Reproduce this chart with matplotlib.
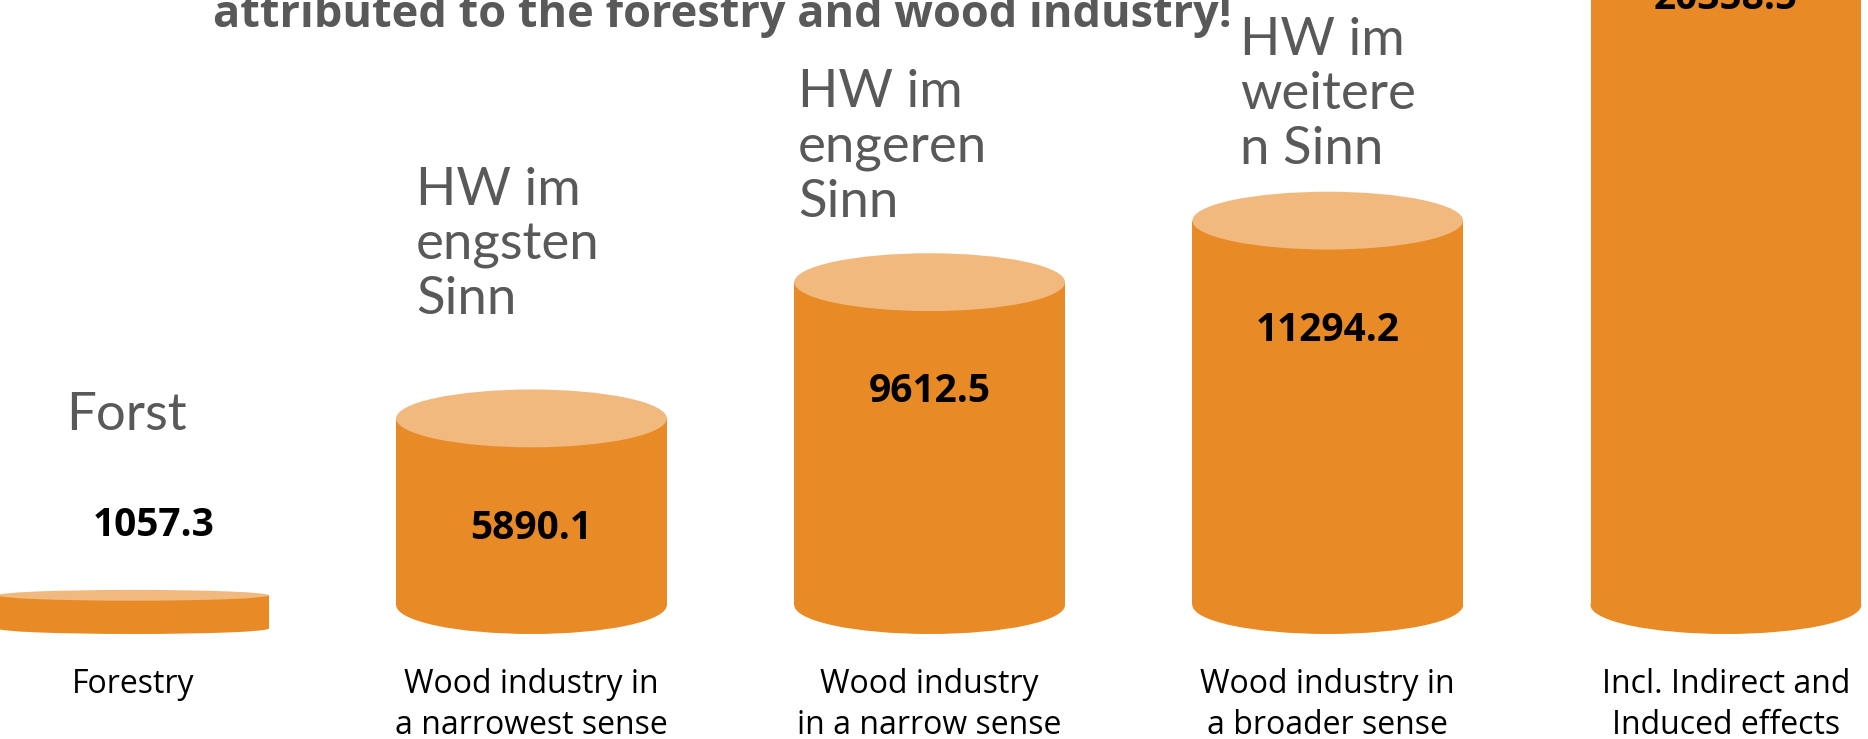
import matplotlib
matplotlib.use("Agg")
import matplotlib.pyplot as plt
from matplotlib.patches import Ellipse, Rectangle

# Данные диаграммы
categories = ["Forestry", "Wood industry in\na narrowest sense", "Wood industry\nin a narrow sense",
              "Wood industry in\na broader sense", "Incl. Indirect and\nInduced effects"]
values = [1057.3, 5890.1, 9612.5, 11294.2, 20358.5]
value_labels = ["1057.3", "5890.1", "9612.5", "11294.2", "20358.5"]
german_labels = ["Forst", "HW im\nengsten\nSinn", "HW im\nengeren\nSinn", "HW im\nweitere\nn Sinn"]
title = "attributed to the forestry and wood industry!"

# Оформление
BODY = "#E88B26"  # цвет цилиндра
TOP = "#F2B97E"   # цвет крышки
GREY = "#595959"
BAR_W = 0.68      # ширина цилиндра (в долях шага категорий)
RY = 790          # полувысота эллипса крышки (в единицах данных)
# немецкие подписи: (сдвиг по x от центра столбца, базовая линия последней строки)
de_pos = [(-0.17, 5574), (-0.29, 8730), (-0.33, 11393), (-0.22, 12842)]

fig = plt.figure(figsize=(18.68, 7.39), dpi=100)
ax = fig.add_axes([0, 0, 1, 1])
ax.set_xlim(-0.335, 4.357)
ax.set_ylim(-2869, 17322)
ax.axis("off")

for i, v in enumerate(values):
    ry = min(RY, 0.14 * v)  # низкий цилиндр - более плоский эллипс
    base = ry
    ax.add_patch(Ellipse((i, base), BAR_W, 2 * ry, color=BODY, lw=0, zorder=2))
    ax.add_patch(Rectangle((i - BAR_W / 2, base), BAR_W, v - base, color=BODY, lw=0, zorder=2))
    ax.add_patch(Ellipse((i, v), BAR_W, 2 * ry, color=TOP, lw=0, zorder=3))

    # подпись значения: внутри высокого цилиндра, над низким
    if v > 3000:
        ly = v - 3000
        lx = i
    else:
        ly = v + 1900
        lx = i + 0.05
    ax.text(lx, ly, value_labels[i], ha="center", va="center", fontsize=28,
            fontweight="bold", family="Open Sans", color="black", zorder=4)

    # подпись категории
    ax.text(i, -930, categories[i], ha="center", va="top", fontsize=23,
            family="Open Sans", color="black", linespacing=1.33)

# немецкие пояснения
for i, lab in enumerate(german_labels):
    dx, y = de_pos[i]
    ax.text(i + dx, y, lab, ha="left", va="baseline", fontsize=38, family="Lato",
            color=GREY, linespacing=1.2)

fig.text(722 / 1868, 1 - 27 / 739, title, ha="center", va="baseline", fontsize=32.5,
         fontweight="bold", family="Open Sans", color=GREY)

fig.savefig("out.png", dpi=100)
